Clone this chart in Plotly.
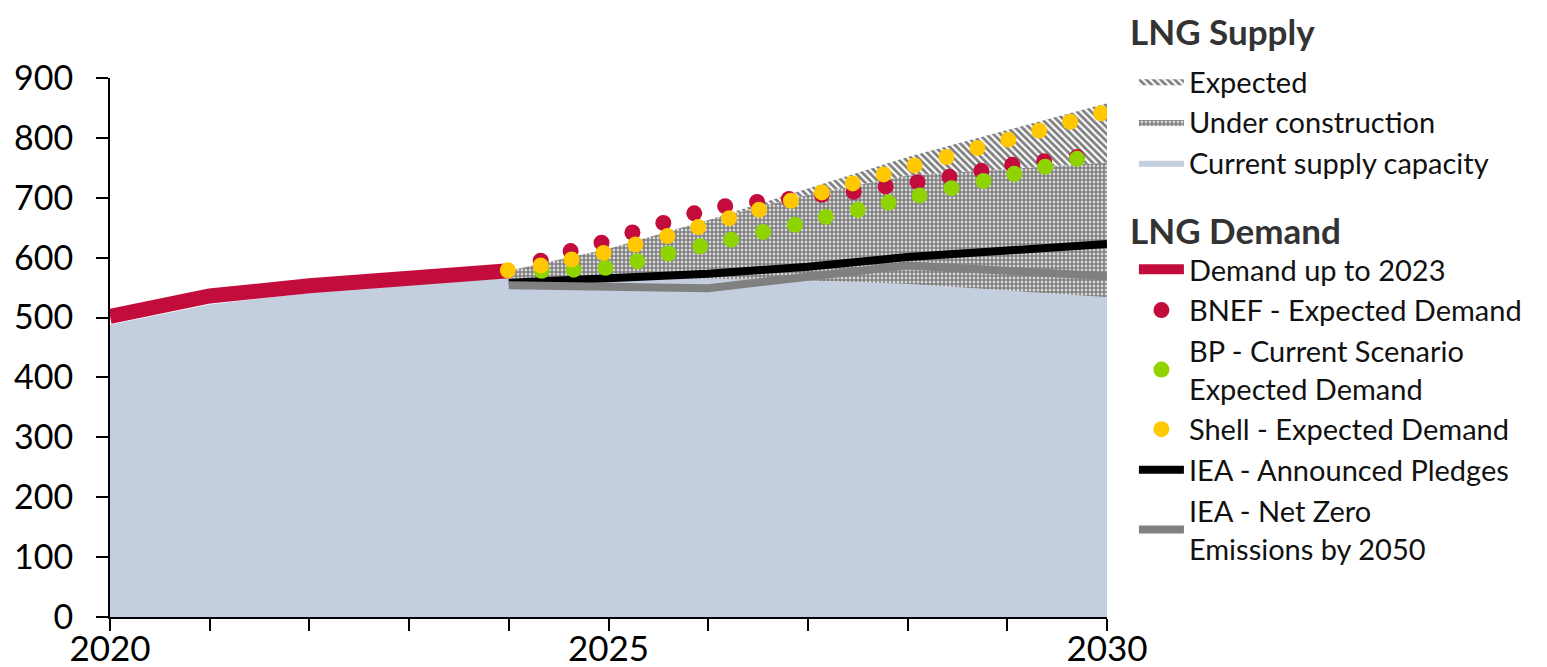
import plotly.graph_objects as go

# supply side, yearly points
years = [2020, 2021, 2022, 2023, 2024, 2025, 2026, 2027, 2028, 2029, 2030]
current_capacity = [488, 522, 541, 556, 566, 566, 565, 562, 556, 545, 534]

supply_years = [2024, 2025, 2026, 2027, 2028, 2029, 2030]
under_construction_top = [578, 615, 663, 705, 737, 748, 759]
expected_top = [578, 615, 663, 716, 768, 813, 858]

# demand history
hist_years = [2020, 2021, 2022, 2023, 2024]
demand_hist = [502, 536, 553, 566, 578]

# IEA scenarios
iea_years = [2024, 2025, 2026, 2027, 2028, 2029, 2030]
iea_aps = [558, 564, 573, 585, 601, 612, 623]
iea_nze = [554, 552, 549, 568, 587, 578, 569]

# forecasts
bnef_x = [2024.32, 2024.62, 2024.93, 2025.24, 2025.55, 2025.86, 2026.17, 2026.49, 2026.81,
          2027.14, 2027.46, 2027.78, 2028.10, 2028.42, 2028.74, 2029.05, 2029.37, 2029.70]
bnef_y = [595, 611, 625, 642, 658, 674, 686, 693, 698,
          705, 710, 719, 726, 735, 745, 755, 761, 768]

bp_x = [2024.33, 2024.65, 2024.97, 2025.29, 2025.60, 2025.92, 2026.23, 2026.55, 2026.87,
        2027.18, 2027.50, 2027.81, 2028.12, 2028.44, 2028.76, 2029.07, 2029.38, 2029.70]
bp_y = [578, 580, 583, 594, 607, 619, 630, 643, 655,
        668, 680, 692, 704, 716, 728, 740, 752, 765]

shell_x = [2023.99, 2024.32, 2024.63, 2024.95, 2025.27, 2025.59, 2025.90, 2026.21, 2026.51, 2026.83,
           2027.14, 2027.45, 2027.76, 2028.07, 2028.39, 2028.70, 2029.01, 2029.32, 2029.63, 2029.94]
shell_y = [579, 587, 597, 608, 622, 636, 651, 666, 680, 695,
           709, 724, 739, 754, 768, 783, 797, 812, 827, 841]

FONT = "Lato"
RED = "#C20C3C"
GREEN = "#8FD400"
YELLOW = "#FFC800"
BLUE = "#C3CEDF"
GREY = "#808080"

fig = go.Figure()

# current supply capacity
fig.add_trace(go.Scatter(
    x=years, y=current_capacity, mode="lines", line=dict(width=0),
    fill="tozeroy", fillcolor=BLUE, name="Current supply capacity",
    legend="legend", legendrank=3,
))
# hidden base for the hatched bands
fig.add_trace(go.Scatter(
    x=supply_years, y=current_capacity[4:], mode="lines", line=dict(width=0),
    showlegend=False, hoverinfo="skip",
))
fig.add_trace(go.Scatter(
    x=supply_years, y=under_construction_top, mode="lines", line=dict(width=0),
    fill="tonexty", fillcolor="rgba(0,0,0,0)",
    fillpattern=dict(shape=".", size=4, solidity=0.75, fgcolor="black", bgcolor="white"),
    name="Under construction", legend="legend", legendrank=2,
))
fig.add_trace(go.Scatter(
    x=supply_years, y=expected_top, mode="lines", line=dict(width=0),
    fill="tonexty", fillcolor="rgba(0,0,0,0)",
    fillpattern=dict(shape="\\", size=5, solidity=0.55, fgcolor="black", bgcolor="white"),
    name="Expected", legend="legend", legendrank=1,
))

# demand lines
fig.add_trace(go.Scatter(
    x=hist_years, y=demand_hist, mode="lines", line=dict(color=RED, width=15),
    name="Demand up to 2023", legend="legend2", legendrank=10,
))
fig.add_trace(go.Scatter(
    x=iea_years, y=iea_aps, mode="lines", line=dict(color="black", width=8),
    name="IEA - Announced Pledges", legend="legend2", legendrank=14,
))
fig.add_trace(go.Scatter(
    x=iea_years, y=iea_nze, mode="lines", line=dict(color=GREY, width=8),
    name="IEA - Net Zero<br>Emissions by 2050", legend="legend2", legendrank=15,
))

# forecast dots
fig.add_trace(go.Scatter(
    x=bnef_x, y=bnef_y, mode="markers", marker=dict(color=RED, size=16),
    name="BNEF - Expected Demand", legend="legend2", legendrank=11,
))
fig.add_trace(go.Scatter(
    x=bp_x, y=bp_y, mode="markers", marker=dict(color=GREEN, size=16),
    name="BP - Current Scenario<br>Expected Demand", legend="legend2", legendrank=12,
))
fig.add_trace(go.Scatter(
    x=shell_x, y=shell_y, mode="markers", marker=dict(color=YELLOW, size=16),
    name="Shell - Expected Demand", legend="legend2", legendrank=13,
))

legend_style = dict(
    x=1.027, xanchor="left", yanchor="top", traceorder="normal",
    font=dict(size=29, color="#111111", family=FONT),
    itemwidth=45, bgcolor="rgba(0,0,0,0)",
)
title_font = dict(size=35, color="#333333", family=FONT)

# the page body adds 8px around the figure, so the figure is 8px smaller
fig.update_layout(
    width=1539, height=659,
    margin=dict(l=102, r=440, t=70, b=50, autoexpand=False),
    paper_bgcolor="white", plot_bgcolor="white",
    font=dict(family=FONT, size=26, color="#111111"),
    legend=dict(y=1.041, **legend_style),
    legend2=dict(y=0.692, **legend_style),
    showlegend=True,
    annotations=[
        dict(text="<b>LNG Supply</b>", x=1.021, y=1.0872, xref="paper", yref="paper",
             xanchor="left", yanchor="middle", showarrow=False, font=title_font),
        dict(text="<b>LNG Demand</b>", x=1.021, y=0.718, xref="paper", yref="paper",
             xanchor="left", yanchor="middle", showarrow=False, font=title_font),
    ],
)
fig.update_xaxes(
    range=[2020, 2030], tickvals=[2020, 2025, 2030], automargin=False,
    showline=True, linecolor="black", linewidth=2,
    ticks="outside", ticklen=12, tickwidth=2, tickcolor="black",
    minor=dict(dtick=1, ticks="outside", ticklen=12, tickwidth=2, tickcolor="black"),
    tickfont=dict(size=35, color="black"), ticklabelstandoff=-12,
    showgrid=False, zeroline=False,
)
fig.update_yaxes(
    range=[0, 900], dtick=100, automargin=False,
    showline=True, linecolor="black", linewidth=2,
    ticks="outside", ticklen=12, tickwidth=2, tickcolor="black",
    tickfont=dict(size=34, color="black"), ticklabelstandoff=16,
    showgrid=False, zeroline=False,
)

fig.write_html("out.html")
